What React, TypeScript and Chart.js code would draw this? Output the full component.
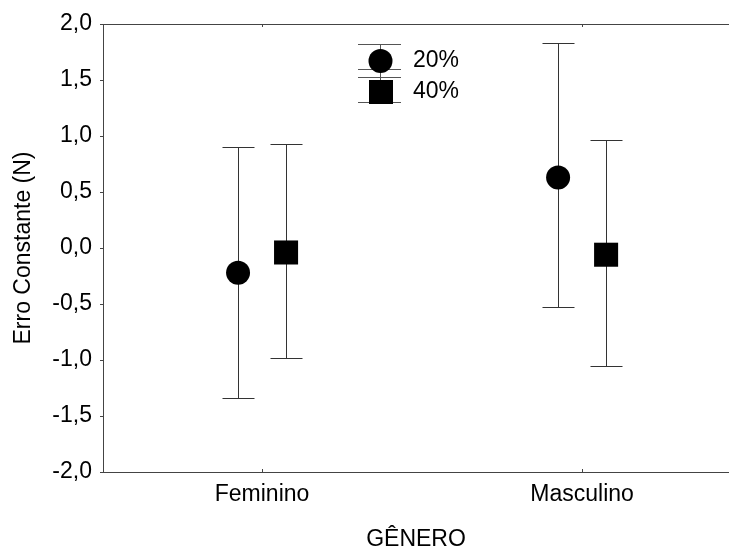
import React, { useEffect, useRef } from "react";
import { Chart, registerables } from "chart.js";

Chart.register(...registerables);

const categories = ["Feminino", "Masculino"];
const seriesNames = ["20%", "40%"];
const mean20 = [-0.22, 0.63];
const low20 = [-1.34, -0.53];
const high20 = [0.9, 1.83];
const mean40 = [-0.04, -0.06];
const low40 = [-0.98, -1.05];
const high40 = [0.93, 0.96];
const yTicks = [-2, -1.5, -1, -0.5, 0, 0.5, 1, 1.5, 2];

const FONT = "Arial, 'Liberation Sans', sans-serif";
const LINE = "#333";
const OFFSET = 0.075;

export default function App() {
  const ref = useRef<HTMLCanvasElement | null>(null);
  useEffect(() => {
    if (!ref.current) return;
    const groups = [
      { mean: mean20, low: low20, high: high20, dx: -OFFSET },
      { mean: mean40, low: low40, high: high40, dx: OFFSET },
    ];
    const errPlugin = {
      id: "errbars",
      beforeDatasetsDraw(chart: any) {
        const ctx = chart.ctx;
        const xs = chart.scales.x;
        const ys = chart.scales.y;
        ctx.save();
        ctx.strokeStyle = LINE;
        ctx.lineWidth = 1;
        groups.forEach((g) => {
          g.mean.forEach((_, i) => {
            const x = Math.round(xs.getPixelForValue(i + g.dx)) + 0.5;
            const yl = Math.round(ys.getPixelForValue(g.low[i])) + 0.5;
            const yh = Math.round(ys.getPixelForValue(g.high[i])) + 0.5;
            ctx.beginPath();
            ctx.moveTo(x, yl);
            ctx.lineTo(x, yh);
            ctx.moveTo(x - 16, yl);
            ctx.lineTo(x + 16, yl);
            ctx.moveTo(x - 16, yh);
            ctx.lineTo(x + 16, yh);
            ctx.stroke();
          });
        });
        const a = chart.chartArea;
        ctx.strokeStyle = "#444";
        ctx.beginPath();
        ctx.moveTo(a.left, a.top + 0.5);
        ctx.lineTo(chart.width, a.top + 0.5);
        ctx.moveTo(a.left, a.bottom + 0.5);
        ctx.lineTo(chart.width, a.bottom + 0.5);
        categories.forEach((_, i) => {
          const x = Math.round(xs.getPixelForValue(i)) + 0.5;
          ctx.moveTo(x, a.top);
          ctx.lineTo(x, a.top + 3);
          ctx.moveTo(x, a.bottom);
          ctx.lineTo(x, a.bottom - 3);
        });
        ctx.stroke();
        ctx.restore();
      },
      afterDatasetsDraw(chart: any) {
        const ctx = chart.ctx;
        ctx.save();
        const cx = 380.5;
        ctx.strokeStyle = "#555";
        ctx.lineWidth = 1;
        ctx.beginPath();
        ctx.moveTo(358, 44.5);
        ctx.lineTo(401, 44.5);
        ctx.moveTo(358, 69.5);
        ctx.lineTo(401, 69.5);
        ctx.moveTo(358, 77.5);
        ctx.lineTo(401, 77.5);
        ctx.moveTo(358, 102.5);
        ctx.lineTo(401, 102.5);
        ctx.moveTo(cx, 44.5);
        ctx.lineTo(cx, 102.5);
        ctx.stroke();
        ctx.fillStyle = "#000";
        ctx.beginPath();
        ctx.arc(cx, 61, 12, 0, Math.PI * 2);
        ctx.fill();
        ctx.fillRect(369, 80, 24, 24);
        ctx.font = `23px ${FONT}`;
        ctx.textBaseline = "middle";
        ctx.textAlign = "left";
        ctx.fillText(seriesNames[0], 413, 61);
        ctx.fillText(seriesNames[1], 413, 92);
        ctx.restore();
      },
    };

    const chart = new Chart(ref.current, {
      type: "scatter",
      data: {
        datasets: [
          {
            label: seriesNames[0],
            data: mean20.map((v, i) => ({ x: i - OFFSET, y: v })),
            pointStyle: "circle",
            pointRadius: 12,
            pointBackgroundColor: "#000",
            pointBorderColor: "#000",
            pointBorderWidth: 0,
          },
          {
            label: seriesNames[1],
            data: mean40.map((v, i) => ({ x: i + OFFSET, y: v })),
            pointStyle: "rect",
            pointRadius: 17,
            pointBackgroundColor: "#000",
            pointBorderColor: "#000",
            pointBorderWidth: 0,
          },
        ],
      },
      options: {
        animation: false,
        responsive: false,
        devicePixelRatio: 1,
        layout: { autoPadding: false, padding: { top: 24, left: 0, right: 0, bottom: 0 } },
        plugins: { legend: { display: false }, tooltip: { enabled: false } },
        scales: {
          x: {
            type: "linear",
            min: -0.497,
            max: 1.459,
            afterFit: (s: any) => {
              s.height = 78;
              s.paddingLeft = 0;
              s.paddingRight = 0;
            },
            afterBuildTicks: (s: any) => {
              s.ticks = categories.map((_, i) => ({ value: i }));
            },
            grid: { display: false, drawTicks: false },
            border: { display: true, color: "#444", width: 1 },
            ticks: {
              color: "#000",
              padding: 9,
              maxRotation: 0,
              autoSkip: false,
              font: { family: FONT, size: 23 },
              callback: (v: any) => categories[Math.round(Number(v))],
            },
            title: {
              display: true,
              text: "GÊNERO",
              color: "#000",
              font: { family: FONT, size: 23, lineHeight: 1 },
              padding: { top: 0, bottom: -1 },
            },
          },
          y: {
            min: -2,
            max: 2,
            afterFit: (s: any) => {
              s.width = 103;
              s.paddingTop = 0;
              s.paddingBottom = 0;
            },
            afterBuildTicks: (s: any) => {
              s.ticks = yTicks.map((v) => ({ value: v }));
            },
            grid: {
              display: true,
              drawOnChartArea: false,
              drawTicks: true,
              tickLength: 3,
              tickColor: "#444",
            },
            border: { display: true, color: "#444", width: 1 },
            ticks: {
              color: "#000",
              padding: 8,
              font: { family: FONT, size: 23 },
              callback: (v: any) => Number(v).toFixed(1).replace(".", ","),
            },
            title: {
              display: true,
              text: "Erro Constante (N)",
              color: "#000",
              font: { family: FONT, size: 23, lineHeight: 1.2 },
              padding: { top: 10, bottom: 0 },
            },
          },
        },
      },
      plugins: [errPlugin],
    } as any);
    return () => chart.destroy();
  }, []);

  return (
    <div style={{ position: "absolute", left: 0, top: 0, width: 729, height: 550, overflow: "hidden", background: "#fff" }}>
      <canvas ref={ref} width={729} height={550} style={{ width: 729, height: 550, display: "block" }} />
    </div>
  );
}
